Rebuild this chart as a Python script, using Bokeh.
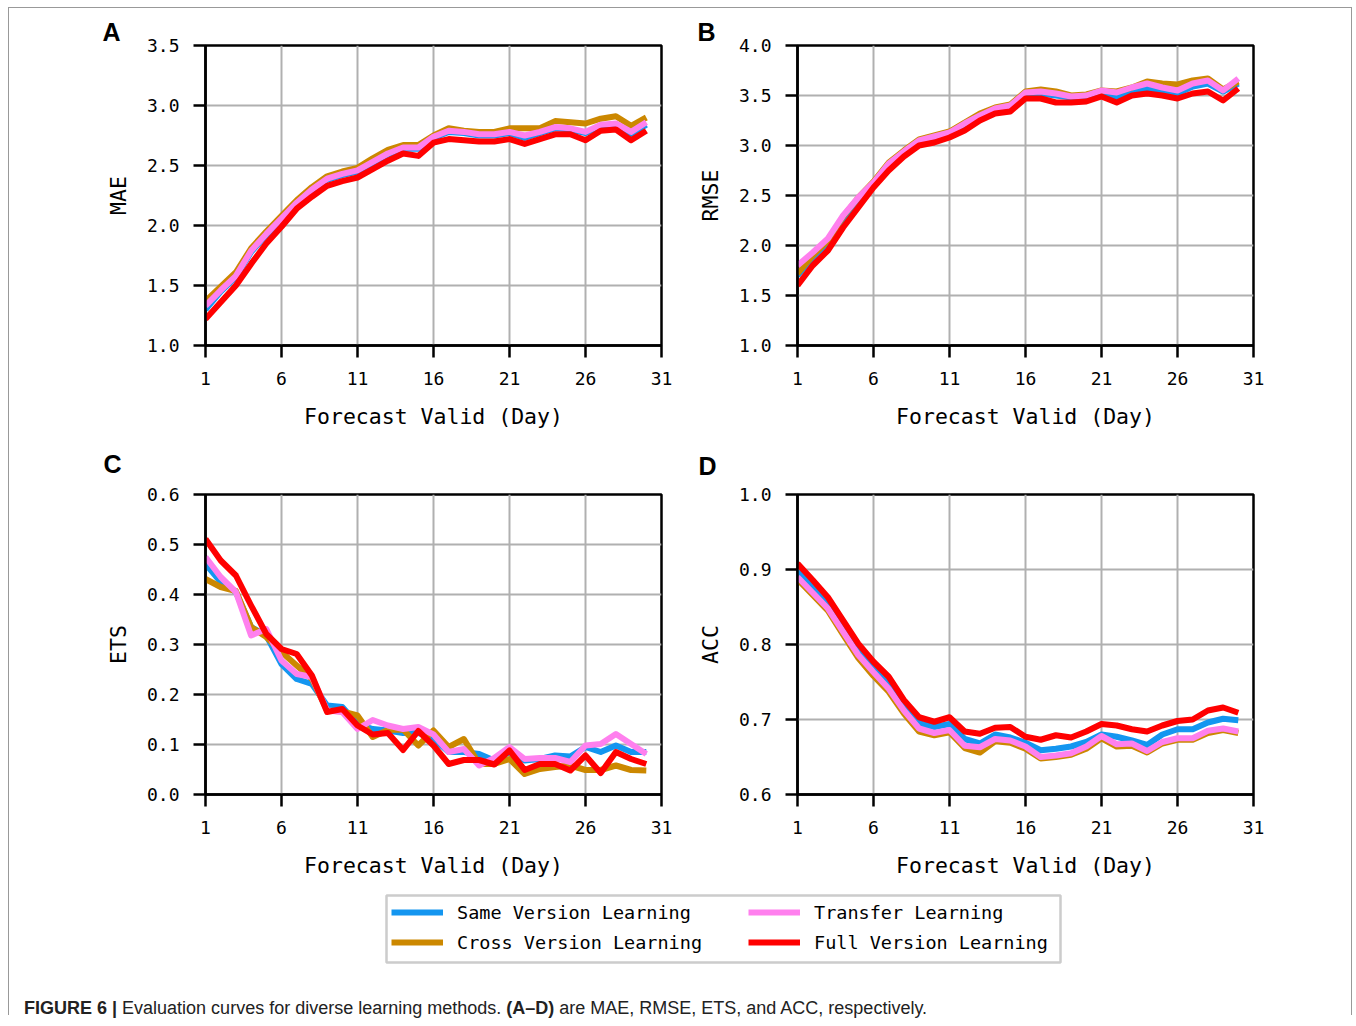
from bokeh.plotting import figure
from bokeh.models import Range1d, FixedTicker, PrintfTickFormatter, Legend, LegendItem, Div
from bokeh.layouts import column, row
from bokeh.embed import file_html
from bokeh.resources import INLINE

# ---------------- data ----------------
days = list(range(1, 31))
x_ticks = [1, 6, 11, 16, 21, 26, 31]

series_names = ["Same Version Learning", "Cross Version Learning", "Transfer Learning", "Full Version Learning"]
series_colors = ["#1496f0", "#cc8800", "#ff80ee", "#ff0000"]

mae_same = [1.30, 1.45, 1.57, 1.78, 1.92, 2.05, 2.18, 2.29, 2.38, 2.42, 2.45, 2.52, 2.59, 2.64, 2.64,
            2.73, 2.78, 2.77, 2.75, 2.75, 2.77, 2.73, 2.77, 2.81, 2.80, 2.77, 2.83, 2.84, 2.76, 2.84]
mae_cross = [1.37, 1.49, 1.61, 1.81, 1.95, 2.08, 2.21, 2.32, 2.41, 2.45, 2.48, 2.56, 2.63, 2.67, 2.67,
             2.75, 2.81, 2.79, 2.78, 2.78, 2.81, 2.81, 2.81, 2.87, 2.86, 2.85, 2.89, 2.91, 2.83, 2.90]
mae_transfer = [1.33, 1.46, 1.58, 1.79, 1.93, 2.06, 2.19, 2.30, 2.39, 2.43, 2.46, 2.53, 2.60, 2.65, 2.65,
                2.74, 2.79, 2.78, 2.76, 2.76, 2.78, 2.75, 2.78, 2.82, 2.81, 2.78, 2.84, 2.85, 2.78, 2.86]
mae_full = [1.22, 1.36, 1.50, 1.68, 1.85, 1.99, 2.14, 2.24, 2.33, 2.37, 2.40, 2.47, 2.54, 2.60, 2.58,
            2.69, 2.72, 2.71, 2.70, 2.70, 2.72, 2.68, 2.72, 2.76, 2.76, 2.71, 2.79, 2.80, 2.71, 2.79]

rmse_same = [1.70, 1.88, 2.03, 2.27, 2.46, 2.62, 2.81, 2.93, 3.04, 3.08, 3.12, 3.21, 3.29, 3.36, 3.39,
             3.52, 3.52, 3.50, 3.48, 3.49, 3.54, 3.48, 3.55, 3.57, 3.55, 3.52, 3.59, 3.62, 3.54, 3.62]
rmse_cross = [1.72, 1.90, 2.05, 2.29, 2.48, 2.64, 2.83, 2.95, 3.06, 3.10, 3.14, 3.23, 3.32, 3.38, 3.41,
              3.54, 3.56, 3.54, 3.50, 3.51, 3.55, 3.54, 3.58, 3.64, 3.62, 3.61, 3.65, 3.67, 3.56, 3.64]
rmse_transfer = [1.80, 1.93, 2.07, 2.30, 2.48, 2.63, 2.82, 2.94, 3.05, 3.09, 3.13, 3.22, 3.30, 3.37, 3.40,
                 3.53, 3.54, 3.52, 3.49, 3.50, 3.55, 3.53, 3.58, 3.62, 3.58, 3.55, 3.62, 3.65, 3.55, 3.67]
rmse_full = [1.60, 1.80, 1.95, 2.18, 2.38, 2.58, 2.75, 2.89, 3.00, 3.03, 3.08, 3.15, 3.25, 3.32, 3.34,
             3.47, 3.47, 3.43, 3.43, 3.44, 3.49, 3.43, 3.50, 3.52, 3.50, 3.47, 3.52, 3.54, 3.45, 3.57]

ets_same = [0.461, 0.425, 0.405, 0.335, 0.318, 0.261, 0.231, 0.221, 0.178, 0.175, 0.141, 0.131, 0.128, 0.123, 0.123,
            0.112, 0.085, 0.085, 0.081, 0.068, 0.085, 0.068, 0.071, 0.078, 0.076, 0.095, 0.085, 0.098, 0.085, 0.085]
ets_cross = [0.431, 0.415, 0.407, 0.335, 0.315, 0.285, 0.258, 0.231, 0.168, 0.166, 0.158, 0.115, 0.129, 0.130, 0.098,
             0.128, 0.095, 0.111, 0.061, 0.061, 0.071, 0.041, 0.051, 0.055, 0.058, 0.049, 0.049, 0.058, 0.049, 0.048]
ets_transfer = [0.475, 0.435, 0.405, 0.318, 0.331, 0.268, 0.241, 0.235, 0.168, 0.165, 0.131, 0.149, 0.138, 0.131, 0.135,
                0.120, 0.085, 0.091, 0.058, 0.073, 0.095, 0.071, 0.073, 0.073, 0.065, 0.098, 0.101, 0.121, 0.101, 0.081]
ets_full = [0.511, 0.468, 0.438, 0.378, 0.321, 0.291, 0.281, 0.238, 0.165, 0.171, 0.138, 0.120, 0.123, 0.089, 0.127,
            0.098, 0.061, 0.069, 0.069, 0.060, 0.088, 0.049, 0.061, 0.061, 0.048, 0.078, 0.043, 0.085, 0.071, 0.061]

acc_same = [0.898, 0.878, 0.855, 0.824, 0.793, 0.770, 0.749, 0.720, 0.695, 0.690, 0.694, 0.674, 0.668, 0.680, 0.676,
            0.669, 0.659, 0.661, 0.664, 0.670, 0.680, 0.677, 0.672, 0.666, 0.680, 0.687, 0.687, 0.696, 0.701, 0.699]
acc_cross = [0.887, 0.866, 0.845, 0.813, 0.782, 0.758, 0.737, 0.708, 0.684, 0.679, 0.683, 0.662, 0.656, 0.671, 0.669,
             0.661, 0.648, 0.650, 0.653, 0.661, 0.675, 0.664, 0.665, 0.656, 0.668, 0.673, 0.673, 0.682, 0.686, 0.682]
acc_transfer = [0.890, 0.869, 0.848, 0.817, 0.786, 0.763, 0.741, 0.712, 0.688, 0.682, 0.686, 0.665, 0.663, 0.674, 0.672,
                0.664, 0.650, 0.652, 0.655, 0.664, 0.678, 0.667, 0.668, 0.658, 0.670, 0.675, 0.675, 0.685, 0.688, 0.684]
acc_full = [0.908, 0.886, 0.863, 0.832, 0.801, 0.777, 0.757, 0.726, 0.703, 0.697, 0.703, 0.684, 0.681, 0.689, 0.690,
            0.677, 0.673, 0.679, 0.676, 0.684, 0.694, 0.692, 0.687, 0.684, 0.692, 0.698, 0.700, 0.712, 0.716, 0.709]

mae_ticks = [1.0, 1.5, 2.0, 2.5, 3.0, 3.5]
rmse_ticks = [1.0, 1.5, 2.0, 2.5, 3.0, 3.5, 4.0]
ets_ticks = [0.0, 0.1, 0.2, 0.3, 0.4, 0.5, 0.6]
acc_ticks = [0.6, 0.7, 0.8, 0.9, 1.0]

x_label = "Forecast Valid (Day)"
caption_html = ("<b>FIGURE 6 |</b> Evaluation curves for diverse learning methods. "
                "<b>(A\u2013D)</b> are MAE, RMSE, ETS, and ACC, respectively.")

# ---------------- styling helpers ----------------
MONO = "DejaVu Sans Mono"


def make_panel(width, height, left, right, top, bottom, yticks, ylabel, letter, letter_off, letter_standoff, data):
    p = figure(width=width, height=height, output_backend="svg", toolbar_location=None,
               x_range=Range1d(1, 31), y_range=Range1d(yticks[0], yticks[-1]),
               min_border_left=left, min_border_right=right,
               min_border_top=top, min_border_bottom=bottom)
    p.outline_line_color = "black"
    p.outline_line_width = 2.5
    p.outline_line_alpha = 1.0
    for ax in (p.xaxis[0], p.yaxis[0]):
        ax.axis_line_width = 2.5
        ax.major_tick_line_width = 2.5
        ax.major_tick_out = 12
        ax.major_tick_in = 0
        ax.minor_tick_out = 0
        ax.minor_tick_in = 0
        ax.major_label_text_font = MONO
        ax.major_label_text_font_size = "18px"
        ax.major_label_text_color = "black"
        ax.axis_label_text_font = MONO
        ax.axis_label_text_font_size = "21.5px"
        ax.axis_label_text_font_style = "normal"
        ax.axis_label_text_color = "black"
    p.xaxis.ticker = FixedTicker(ticks=x_ticks)
    p.yaxis.ticker = FixedTicker(ticks=yticks)
    p.yaxis.formatter = PrintfTickFormatter(format="%.1f")
    p.xaxis.major_label_standoff = 14
    p.yaxis.major_label_standoff = 14
    p.xaxis.axis_label = x_label
    p.yaxis.axis_label = ylabel
    p.xaxis.axis_label_standoff = 16
    p.yaxis.axis_label_standoff = 13
    p.xgrid.ticker = FixedTicker(ticks=x_ticks)
    p.ygrid.ticker = FixedTicker(ticks=yticks)
    for g in (p.xgrid[0], p.ygrid[0]):
        g.grid_line_color = "#b0b0b0"
        g.grid_line_width = 2
    for vals, col in zip(data, series_colors):
        p.line(days, vals, line_color=col, line_width=6, line_join="round")
    # panel letter as the figure title
    p.title.text = letter
    p.title.align = "left"
    p.title.offset = letter_off
    p.title.standoff = letter_standoff
    p.title.text_font = "Liberation Sans"
    p.title.text_font_style = "bold"
    p.title.text_font_size = "25px"
    p.title.text_color = "black"
    return p


W_LEFT, W_RIGHT = 678, 664
pA = make_panel(W_LEFT, 423, 196, 26, 37, 86, mae_ticks, "MAE", "A", -103, 0,
                [mae_same, mae_cross, mae_transfer, mae_full])
pB = make_panel(W_RIGHT, 423, 110, 98, 37, 86, rmse_ticks, "RMSE", "B", -100, 0,
                [rmse_same, rmse_cross, rmse_transfer, rmse_full])
pC = make_panel(W_LEFT, 453, 196, 26, 63, 90, ets_ticks, "ETS", "C", -102, 33,
                [ets_same, ets_cross, ets_transfer, ets_full])
pD = make_panel(W_RIGHT, 453, 110, 98, 63, 90, acc_ticks, "ACC", "D", -99, 29,
                [acc_same, acc_cross, acc_transfer, acc_full])

# ---------------- legend panel ----------------
pl = figure(width=W_LEFT + W_RIGHT, height=101, output_backend="svg", toolbar_location=None,
            x_range=Range1d(0, 1), y_range=Range1d(0, 1), x_axis_type=None, y_axis_type=None,
            min_border_left=377, min_border_right=291, min_border_top=11, min_border_bottom=23)
pl.grid.visible = False
pl.outline_line_color = "#cccccc"
pl.outline_line_width = 2.5
legend_src = [ets_same, ets_cross, ets_transfer, ets_full]
rends = []
for vals, c in zip(legend_src, series_colors):
    r = pl.line(days, vals, line_color=c, line_width=6)
    r.visible = False
    rends.append(r)


def make_legend(idx, loc):
    lg = Legend(items=[LegendItem(label=series_names[i], renderers=[rends[i]]) for i in idx],
                location=loc, orientation="vertical")
    lg.border_line_alpha = 0
    lg.background_fill_alpha = 0
    lg.padding = 0
    lg.margin = 0
    lg.spacing = 8
    lg.glyph_width = 52
    lg.glyph_height = 22
    lg.label_standoff = 14
    lg.label_text_font = MONO
    lg.label_text_font_size = "18.5px"
    lg.label_text_color = "black"
    lg.label_text_baseline = "middle"
    lg.inactive_fill_alpha = 0
    return lg


pl.add_layout(make_legend([0, 1], (5, 9)))
pl.add_layout(make_legend([2, 3], (362, 9)))

caption = Div(text=caption_html, width=W_LEFT + W_RIGHT, height=30, margin=0,
              styles={"font-family": "'Liberation Sans', Arial, sans-serif", "font-size": "18px",
                      "color": "#222", "padding-left": "15px", "padding-top": "11px",
                      "white-space": "nowrap"})

layout = column(row(pA, pB), row(pC, pD), pl, caption, margin=(7, 0, 0, 8),
                styles={"border-left": "1px solid #999", "border-right": "1px solid #999",
                        "border-top": "1px solid #999"})

open("out.html", "w").write(file_html(layout, INLINE))
